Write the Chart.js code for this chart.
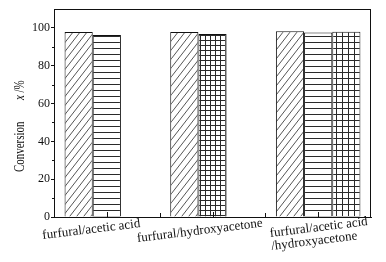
<!DOCTYPE html>
<html>
<head>
<meta charset="utf-8">
<script src="https://cdn.jsdelivr.net/npm/chart.js@4.4.0/dist/chart.umd.min.js"></script>
<style>
  html, body { margin: 0; padding: 0; background: #fff; }
  #wrap { width: 386px; height: 262px; }
</style>
</head>
<body>
<div id="wrap"><canvas id="chart"></canvas></div>
<script>
// data
const categories = ['furfural/acetic acid', 'furfural/hydroxyacetone', ['furfural/acetic acid', '/hydroxyacetone']];
const furfural = [97.8, 97.9, 98.2];
const second = [96.3, 96.8, 97.6];
const hydroxy = [null, null, 98.0];
const yTicks = [0, 20, 40, 60, 80, 100];
const yMinor = [10, 30, 50, 70, 90];

const INK = '#111';
const SERIF = "'Liberation Serif', 'Times New Roman', serif";

// hatch patterns
function tile(w, h, draw) {
  const c = document.createElement('canvas');
  c.width = w; c.height = h;
  const g = c.getContext('2d');
  g.fillStyle = '#fff';
  g.fillRect(0, 0, w, h);
  g.strokeStyle = '#2a2a2a';
  g.lineWidth = 1;
  draw(g, w, h);
  return g.createPattern(c, 'repeat');
}
const diag = tile(7, 9, (g, w, h) => {
  g.lineWidth = 0.8;
  g.beginPath();
  for (let k = -1; k <= 1; k++) {
    g.moveTo(k * w, h); g.lineTo(k * w + w, 0);
  }
  g.stroke();
});
const hlines = tile(6, 6, (g, w) => {
  g.beginPath(); g.moveTo(0, 0.5); g.lineTo(w, 0.5); g.stroke();
});
const grid = n => tile(n, n, (g, s) => {
  g.beginPath();
  g.moveTo(0, 0.5); g.lineTo(s, 0.5);
  g.moveTo(0.5, 0); g.lineTo(0.5, s);
  g.stroke();
});
const fineGrid = grid(5);
const coarseGrid = grid(6);

const labelPos = [ // start offset from tick, baseline y
  { dx: -64, y: 239 },
  { dx: -75, y: 242 },
  { dx: -48, y: 237 }
];

const decor = {
  id: 'decor',
  afterDraw(chart) {
    const ctx = chart.ctx, a = chart.chartArea;
    const x = chart.scales.x, y = chart.scales.y;
    ctx.save();
    ctx.strokeStyle = INK;
    ctx.lineWidth = 1;
    // frame
    ctx.strokeRect(Math.round(a.left) + 0.5, Math.round(a.top) + 0.5,
      Math.round(a.right - a.left) - 1, Math.round(a.bottom - a.top));
    // minor y ticks
    ctx.beginPath();
    yMinor.forEach(v => {
      const py = Math.round(y.getPixelForValue(v)) + 0.5;
      ctx.moveTo(a.left - 2, py); ctx.lineTo(a.left, py);
    });
    // inward x ticks: centres and boundaries
    const bot = Math.round(a.bottom);
    categories.forEach((c, i) => {
      const px = Math.round(x.getPixelForValue(i)) + 0.5;
      ctx.moveTo(px, bot); ctx.lineTo(px, bot - 5);
      if (i > 0) {
        const pb = Math.round((x.getPixelForValue(i) + x.getPixelForValue(i - 1)) / 2) + 0.5;
        ctx.moveTo(pb, bot); ctx.lineTo(pb, bot - 4);
      }
    });
    ctx.stroke();

    // category labels, slightly tilted
    ctx.fillStyle = INK;
    ctx.font = '13px ' + SERIF;
    ctx.textAlign = 'left';
    ctx.textBaseline = 'alphabetic';
    categories.forEach((c, i) => {
      const lines = Array.isArray(c) ? c : [c];
      const p = labelPos[i];
      ctx.save();
      ctx.translate(x.getPixelForValue(i) + p.dx, p.y);
      ctx.rotate(-7 * Math.PI / 180);
      lines.forEach((t, k) => ctx.fillText(t, 0, k * 13));
      ctx.restore();
    });

    // y title: Conversion   x /%  (narrow serif)
    ctx.save();
    ctx.translate(24, 172);
    ctx.rotate(-Math.PI / 2);
    ctx.scale(0.78, 1);
    ctx.font = '14px ' + SERIF;
    ctx.fillText('Conversion', 0, 0);
    const xs = 72 / 0.78;
    ctx.font = 'italic 14px ' + SERIF;
    ctx.fillText('x', xs, 0);
    const wx = ctx.measureText('x').width;
    ctx.font = '14px ' + SERIF;
    ctx.fillText(' /%', xs + wx, 0);
    ctx.restore();
    ctx.restore();
  }
};

new Chart(document.getElementById('chart'), {
  type: 'bar',
  data: {
    labels: categories,
    datasets: [
      { data: furfural, backgroundColor: diag, borderColor: INK, borderWidth: 1 },
      { data: second, backgroundColor: [hlines, fineGrid, hlines], borderColor: INK, borderWidth: 1 },
      { data: hydroxy, backgroundColor: coarseGrid, borderColor: INK, borderWidth: 1 }
    ]
  },
  options: {
    responsive: true,
    maintainAspectRatio: false,
    animation: false,
    layout: { padding: { top: 9, right: 15, left: 0, bottom: 0 } },
    datasets: { bar: { categoryPercentage: 0.8, barPercentage: 1 } },
    plugins: { legend: { display: false }, tooltip: { enabled: false } },
    scales: {
      x: {
        offset: true,
        grid: { display: false },
        border: { display: true, color: INK, width: 1 },
        ticks: { display: false },
        afterFit: s => { s.height = 45; }
      },
      y: {
        min: 0,
        max: 110,
        afterBuildTicks: s => { s.ticks = yTicks.map(v => ({ value: v })); },
        grid: { drawOnChartArea: false, drawTicks: true, tickLength: 3, color: INK, tickColor: INK },
        border: { display: true, color: INK, width: 1 },
        ticks: { color: INK, padding: 1, font: { family: SERIF, size: 12 } },
        afterFit: s => { s.width = 54; }
      }
    }
  },
  plugins: [decor]
});
</script>
</body>
</html>
